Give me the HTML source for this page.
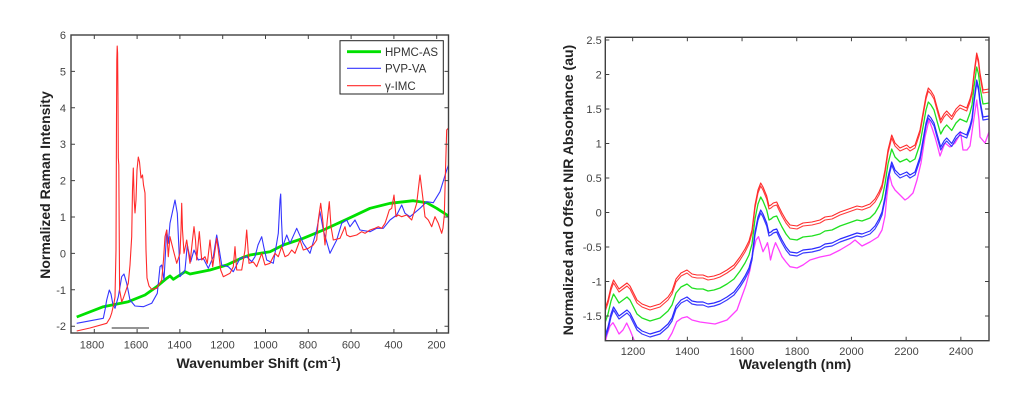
<!DOCTYPE html>
<html>
<head>
<meta charset="utf-8">
<style>
html,body{margin:0;padding:0;background:#fff;}
svg{display:block;}
text{font-family:"Liberation Sans",Arial,sans-serif;}
.tk{font-size:11px;fill:#444;}
.ttl{font-size:14px;font-weight:bold;fill:#222;}
.lg{font-size:11.5px;fill:#333;}
</style>
</head>
<body>
<svg width="1022" height="402" viewBox="0 0 1022 402" xmlns="http://www.w3.org/2000/svg">
<rect x="0" y="0" width="1022" height="402" fill="#fff"/>
<defs>
<clipPath id="cL"><rect x="71" y="35" width="377.5" height="298"/></clipPath>
<clipPath id="cR"><rect x="605.3" y="37.3" width="383.7" height="303.4"/></clipPath>
<polyline id="redR" fill="none" points="605.3,308 608,300 611,287 613.5,280 616,284 619,289 623,286 627,283 630,286 633,292 637,300 642,304 650,307 660,304 668,297 672,291 676,279 681,273 687,270 692,274 697,275 703,275 708,277 714,276 720,274 727,270 734,265 740,257 745,249 749,241 752,230 755,205 758,190 760.7,183 763,187 766.7,196 769,206 771,205 773.3,203 776.7,202 779,207 782,213 786,220 790,225 797,226 803,223 812,222 820,220 825,217 832,216 840,212 850,208.5 857,206 862,207 870,204 875,199 879,192 882,185 885,170 888,150 891.7,135 895,143 900,148 906.7,145 910,148 915,145 920,130 923,113 926,96 928.3,88 931,91 934,96 937,107 940.7,120 944,114 946.7,111 951.7,116.5 956,109 960,105 966.7,108 970,99 972,91 974,73 976.7,53 978.5,60 980,73 983,90 989,89"/>
</defs>

<!-- ================= LEFT CHART ================= -->
<g clip-path="url(#cL)" stroke-linejoin="round" fill="none">
<polyline stroke="#00e000" stroke-width="2.8" points="76.7,317 103.3,306.7 128.3,301.7 145,295 156.7,286.7 166.7,278.3 170,276 173.3,279.3 180,275 185,271.7 190,274 210,270 226.7,265 243.3,257.3 250,255 270,251.7 283.3,245 303.3,238.3 323.3,230 346.7,219.3 370,208.3 390,203.3 413.3,200.7 426.7,202.7 436.7,208.3 448.5,216"/>
<polyline stroke="#3535ff" stroke-width="1.1" points="76.7,323.3 103.3,318.3 105,310 106.7,300 109.3,290 111,294 112.7,303.3 115,308.3 118.3,296.7 121.7,276.7 124,274 126.7,283.3 130,300 135,306 143.3,306.7 151.7,303.3 157.3,293.3 160,266.7 161.7,265 164,280 166.7,230 168.3,243.3 170,223.3 175,200 177.3,213.3 179,250 180,276.7 185,270 187.3,245 190.7,261.7 194,250 198.3,260 203.3,258.3 208.3,268.3 213.3,256.7 216.7,235 219.3,250 221.7,265 228.3,266.7 233.3,271.7 240,258.3 246.7,256.7 251.7,261.7 255,256.7 258,245 261.7,236.7 264,248 266.7,260 273.3,263.3 278.3,233.3 280,200 280.7,194 281.5,220 282.7,246.7 286.7,235 290,243.3 296.7,228.3 303.3,243.3 310,253.3 316.7,230 320,211.7 323.3,230 330,253.3 336.7,240 341.7,223.3 346.7,220 350,226.7 355,220 360,230 370,231.7 376.7,228.3 383.3,228.3 390,220 396.7,215 401.7,205 405,213.3 410,216.7 420,208.3 426.7,201.7 433.3,202.7 440,191.7 446.7,170 448.5,165"/>
<polyline stroke="#ff2a2a" stroke-width="1.1" points="76.7,331 90,328 106.7,323.3 110,318 111.7,313 114,303 115,297 116,250 116.5,120 116.8,60 117.2,46 117.6,53 118,100 118.3,158 118.8,165 119.2,230 119.6,290 121.7,301.7 123,299 125,293.3 128.3,283.3 130,265 131.7,236.7 132.5,190 133.3,168 134.2,200 135,213 136,200 137,170 138.3,157 139.5,162 141,178 142.5,175 143.5,185 145,193 146,250 147,278 149,286 151.7,289.3 156.7,288.3 161.7,280 163.5,260 165,236.7 166.7,230 168.3,256.7 170,236.7 173.3,250 176.7,263.3 180,253.3 181,230 181.7,203.3 182.5,230 184,253.3 186.7,240 190,263.3 192.5,240 194,226.7 195.5,240 196.7,260 199.3,231.7 201.7,260 205,256.7 207.3,263.3 210,240 212.7,266.7 216.7,238.3 218.3,250 220.7,270 223.3,276.7 230,273.3 233.3,266.7 235,246.7 236.7,270 241.7,270 245,250 246.7,230 249,263.3 253.3,262 256.7,266.7 261.7,253.3 265,265 270,263.3 275,253.3 278.3,256.7 281.7,246.7 285,256.7 288.3,255 291.7,250 295,253.3 300,240 303.3,250 308.3,248.3 313.3,245 316.7,240 318.3,220 320.7,203.3 322.7,220 325,245 327.3,220 329.3,201.7 331,226.7 333.3,240 340,238.3 345,226.7 346.7,235 350,236.7 356.7,235 361.7,231.7 365,233.3 370,230 375,228.3 378.3,226.7 381.7,228.3 385,223.3 386.7,218.3 389.3,210 391.7,208.3 394,195 396,216.7 398.3,215 401.7,216.7 406.7,215 411.7,220 416.7,203.3 420,175 422.7,196.7 425,216.7 428.3,220 431.7,226.7 435,216.7 438.3,223.3 441.7,233.3 443,228 444.3,215 445.5,170 446.7,130 448.5,128"/>
</g>
<!-- left axes box -->
<rect x="71" y="35" width="377.5" height="298" fill="none" stroke="#404040" stroke-width="1.4"/>
<g stroke="#404040" stroke-width="1">
<!-- x ticks bottom/top -->
<path d="M94.3,333v-4M137.1,333v-4M179.9,333v-4M222.7,333v-4M265.5,333v-4M308.3,333v-4M351.1,333v-4M393.9,333v-4M436.7,333v-4
M94.3,35v4M137.1,35v4M179.9,35v4M222.7,35v4M265.5,35v4M308.3,35v4M351.1,35v4M393.9,35v4M436.7,35v4"/>
<!-- y ticks left/right -->
<path d="M71,71.4h4M71,107.8h4M71,144.2h4M71,180.6h4M71,217h4M71,253.4h4M71,289.8h4M71,326.2h4
M448.5,71.4h-4M448.5,107.8h-4M448.5,144.2h-4M448.5,180.6h-4M448.5,217h-4M448.5,253.4h-4M448.5,289.8h-4M448.5,326.2h-4"/>
</g>
<line x1="111.7" y1="328" x2="149" y2="328" stroke="#555" stroke-width="1.3"/>
<g class="tk" text-anchor="end">
<text x="66" y="39">6</text>
<text x="66" y="75.4">5</text>
<text x="66" y="111.8">4</text>
<text x="66" y="148.2">3</text>
<text x="66" y="184.6">2</text>
<text x="66" y="221">1</text>
<text x="66" y="257.4">0</text>
<text x="66" y="293.8">-1</text>
<text x="66" y="330.2">-2</text>
</g>
<g class="tk" text-anchor="middle">
<text x="92" y="348.3">1800</text>
<text x="136" y="348.3">1600</text>
<text x="179.5" y="348.3">1400</text>
<text x="222.5" y="348.3">1200</text>
<text x="265.5" y="348.3">1000</text>
<text x="308" y="348.3">800</text>
<text x="351" y="348.3">600</text>
<text x="393.5" y="348.3">400</text>
<text x="436.5" y="348.3">200</text>
</g>
<text class="ttl" x="258.7" y="368" text-anchor="middle">Wavenumber Shift (cm<tspan font-size="9.5" dy="-5">-1</tspan><tspan dy="5">)</tspan></text>
<text class="ttl" transform="translate(50,185) rotate(-90)" text-anchor="middle">Normalized Raman Intensity</text>

<!-- legend -->
<rect x="340" y="40.7" width="103.3" height="53.3" fill="#fff" stroke="#222" stroke-width="1"/>
<line x1="347" y1="51.7" x2="381" y2="51.7" stroke="#00e000" stroke-width="2.8"/>
<line x1="347" y1="68.3" x2="381" y2="68.3" stroke="#3535ff" stroke-width="1.1"/>
<line x1="347" y1="85.7" x2="381" y2="85.7" stroke="#ff2a2a" stroke-width="1.1"/>
<g class="lg">
<text x="385" y="55.8">HPMC-AS</text>
<text x="385" y="72.4">PVP-VA</text>
<text x="385" y="89.8">γ-IMC</text>
</g>

<!-- ================= RIGHT CHART ================= -->
<g clip-path="url(#cR)" stroke-linejoin="round" fill="none">
<polyline stroke="#ff40ff" stroke-width="1.3" points="605.3,342 607,335 610,326 613,322.7 616,328 619,334 623,330 626.7,323 630,330 634,340 637,345 650,350 665,345 672,333 676.7,321.7 682,318 687,316.7 692,320 700,322 715,324 727,320 737,310 742,296 746,285 750,270 753,252 756,240 758.5,236.7 761,245 763,251.7 766,246 767.5,242.7 769,250 770.5,260 773,250 775.5,242.7 779,250 782,256.7 786,262 790,266.7 797,268 803,265 810,260 820,257 830,255 840,250 850,244 855,240 862,246 870,242 878,237 882,230 885,216 887,195 889.5,175 892,185 895,190 900,195 905,200 908,198 913,193 917,180 921,163 925,137 929,120 932,128 935,137 938,148 940,156 943,148 945,143 950,147 955,143 959,136 960.5,131.7 963,150 967,150 970,146 973,125 976.7,100 979,120 980,137 985,143 989,132"/>
<use href="#redR" transform="translate(0,30)" stroke="#3a3aff" stroke-width="1.2"/>
<use href="#redR" transform="translate(0,27)" stroke="#2a2aff" stroke-width="1.2"/>
<use href="#redR" transform="translate(0,14)" stroke="#20e020" stroke-width="1.3"/>
<use href="#redR" transform="translate(0,3)" stroke="#ff3a3a" stroke-width="1.1"/>
<use href="#redR" stroke="#ff2a2a" stroke-width="1.1"/>
</g>
<rect x="605.3" y="37.3" width="383.7" height="303.4" fill="none" stroke="#404040" stroke-width="1.4"/>
<g stroke="#404040" stroke-width="1">
<path d="M632.65,340.7v-4M687.35,340.7v-4M742.05,340.7v-4M796.75,340.7v-4M851.45,340.7v-4M906.15,340.7v-4M960.85,340.7v-4
M632.65,37.3v4M687.35,37.3v4M742.05,37.3v4M796.75,37.3v4M851.45,37.3v4M906.15,37.3v4M960.85,37.3v4"/>
<path d="M605.3,40h4M605.3,74.5h4M605.3,109h4M605.3,143.5h4M605.3,178h4M605.3,212.5h4M605.3,247h4M605.3,281.5h4M605.3,316h4
M989,40h-4M989,74.5h-4M989,109h-4M989,143.5h-4M989,178h-4M989,212.5h-4M989,247h-4M989,281.5h-4M989,316h-4"/>
</g>
<g class="tk" text-anchor="end">
<text x="601.7" y="44">2.5</text>
<text x="601.7" y="78.5">2</text>
<text x="601.7" y="113">1.5</text>
<text x="601.7" y="147.5">1</text>
<text x="601.7" y="182">0.5</text>
<text x="601.7" y="216.5">0</text>
<text x="601.7" y="251">-0.5</text>
<text x="601.7" y="285.5">-1</text>
<text x="601.7" y="320">-1.5</text>
</g>
<g class="tk" text-anchor="middle">
<text x="633" y="355">1200</text>
<text x="687.3" y="355">1400</text>
<text x="742" y="355">1600</text>
<text x="797" y="355">1800</text>
<text x="851.5" y="355">2000</text>
<text x="906.5" y="355">2200</text>
<text x="961" y="355">2400</text>
</g>
<text class="ttl" x="795" y="369" text-anchor="middle">Wavelength (nm)</text>
<text class="ttl" transform="translate(573,190) rotate(-90)" text-anchor="middle">Normalized and Offset NIR Absorbance (au)</text>
</svg>
</body>
</html>
